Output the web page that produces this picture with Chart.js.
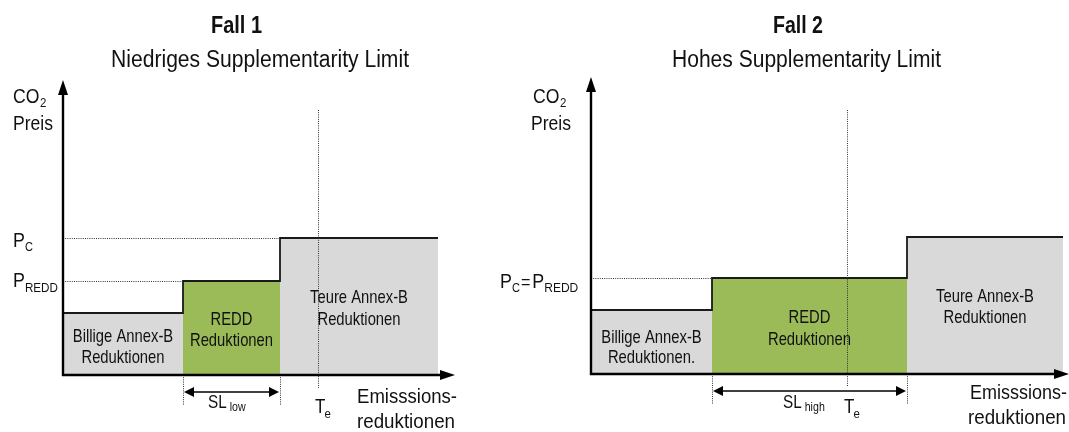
<!DOCTYPE html>
<html><head><meta charset="utf-8">
<script src="https://cdn.jsdelivr.net/npm/chart.js@4/dist/chart.umd.min.js"></script>
<style>
html,body{margin:0;padding:0;background:#fff;}
#wrap{position:relative;width:1069px;height:432px;overflow:hidden;}
canvas{position:absolute;top:0;}
</style></head><body>
<div id="wrap">
<canvas id="c1" width="480" height="432" style="left:0px"></canvas>
<canvas id="c2" width="589" height="432" style="left:480px"></canvas>
</div>
<script>
// ---- Fall 1: Niedriges Supplementarity Limit ----
const bounds1 = [0, 120, 217, 375];   // block boundaries (emission reductions)
const prices1 = [62, 94, 137];        // price levels: Billige, REDD, Teure
const te1 = 255;                      // target T_e
const xMax1 = 392, yMax1 = 295;
// ---- Fall 2: Hohes Supplementarity Limit ----
const bounds2 = [0, 121, 316, 472];
const prices2 = [64, 96, 137];
const te2 = 256;
const xMax2 = 478, yMax2 = 297;

const blockLabels1 = [["Billige Annex-B","Reduktionen"],["REDD","Reduktionen"],["Teure Annex-B","Reduktionen"]];
const blockLabels2 = [["Billige Annex-B","Reduktionen."],["REDD","Reduktionen"],["Teure Annex-B","Reduktionen"]];
const blockColors = ['#d9d9d9', '#9bbb59', '#d9d9d9'];

const FONT = '"Liberation Sans", Arial, sans-serif';
function txt(ctx, s, x, y, size, o) {
  o = o || {};
  ctx.save();
  ctx.font = (o.bold ? 'bold ' : '') + size + 'px ' + FONT;
  ctx.fillStyle = '#111';
  ctx.textBaseline = 'alphabetic';
  ctx.textAlign = 'left';
  const w = ctx.measureText(s).width;
  const sx = o.width ? o.width / w : (o.sx || 1);
  let left = x;
  if (o.align === 'center') left = x - w * sx / 2;
  ctx.translate(left, y);
  ctx.scale(sx, 1);
  ctx.fillText(s, 0, 0);
  ctx.restore();
  return w * sx;
}

function makePanel(id, off, bounds, prices, te, xMax, yMax, labels, pad, extra) {
  const datasets = [];
  for (let i = 0; i < prices.length; i++) {
    datasets.push({
      data: [{x: bounds[i], y: prices[i]}, {x: bounds[i + 1], y: prices[i]}],
      fill: 'origin', backgroundColor: blockColors[i], borderWidth: 0, pointRadius: 0, order: 2
    });
  }
  datasets.push({
    data: [{x: bounds[0], y: prices[0]}, {x: bounds[1], y: prices[1]}, {x: bounds[2], y: prices[2]}, {x: bounds[3], y: prices[2]}],
    stepped: 'before', fill: false, borderColor: '#1a1a1a', borderWidth: 1.8, pointRadius: 0, order: 1
  });

  const deco = {
    id: 'deco' + id,
    afterDatasetsDraw(chart) {
      const ctx = chart.ctx, a = chart.chartArea;
      const X = v => chart.scales.x.getPixelForValue(v);
      const Y = v => chart.scales.y.getPixelForValue(v);
      const P = v => v - off; // page x -> canvas x
      ctx.save();
      // dotted guides
      ctx.setLineDash([1, 1.2]);
      ctx.lineWidth = 1;
      ctx.strokeStyle = '#333';
      extra.pLines.forEach(([lvl, bi]) => {
        ctx.beginPath();
        ctx.moveTo(X(0), Y(prices[lvl]) + 0.5);
        ctx.lineTo(X(bounds[bi]), Y(prices[lvl]) + 0.5);
        ctx.stroke();
      });
      // T_e line
      ctx.beginPath();
      ctx.moveTo(Math.round(X(te)) + 0.5, 110);
      ctx.lineTo(Math.round(X(te)) + 0.5, Y(0) + 13);
      ctx.stroke();
      // SL ticks
      [bounds[1], bounds[2]].forEach(b => {
        ctx.beginPath();
        ctx.moveTo(Math.round(X(b)) + 0.5, Y(0));
        ctx.lineTo(Math.round(X(b)) + 0.5, Y(0) + 30);
        ctx.stroke();
      });
      ctx.setLineDash([]);
      // axes
      ctx.strokeStyle = '#000';
      ctx.fillStyle = '#000';
      ctx.lineWidth = 2.4;
      ctx.beginPath();
      ctx.moveTo(X(0), Y(0) + 1.2);
      ctx.lineTo(X(0), a.top + 10);
      ctx.moveTo(X(0) - 1.2, Y(0));
      ctx.lineTo(a.right - 10, Y(0));
      ctx.stroke();
      ctx.beginPath();
      ctx.moveTo(X(0), a.top); ctx.lineTo(X(0) - 5, a.top + 15); ctx.lineTo(X(0) + 5, a.top + 15); ctx.closePath(); ctx.fill();
      ctx.beginPath();
      ctx.moveTo(a.right, Y(0)); ctx.lineTo(a.right - 15, Y(0) - 5); ctx.lineTo(a.right - 15, Y(0) + 5); ctx.closePath(); ctx.fill();
      // SL double arrow
      const ay = Y(0) + 17, x1 = X(bounds[1]) + 1, x2 = X(bounds[2]) - 1;
      ctx.lineWidth = 1.6;
      ctx.beginPath(); ctx.moveTo(x1 + 8, ay); ctx.lineTo(x2 - 8, ay); ctx.stroke();
      ctx.beginPath(); ctx.moveTo(x1, ay); ctx.lineTo(x1 + 10, ay - 5); ctx.lineTo(x1 + 10, ay + 5); ctx.closePath(); ctx.fill();
      ctx.beginPath(); ctx.moveTo(x2, ay); ctx.lineTo(x2 - 10, ay - 5); ctx.lineTo(x2 - 10, ay + 5); ctx.closePath(); ctx.fill();
      ctx.restore();

      // titles
      txt(ctx, extra.title, P(extra.titleX), 33, 23, {bold: true, align: 'center', width: extra.titleW});
      txt(ctx, extra.sub, P(extra.subX), 67, 23, {width: extra.subW});
      // y axis label
      const cw = txt(ctx, 'CO', P(extra.coX), 103, 20, {sx: 0.88});
      txt(ctx, '2', P(extra.coX) + cw + 0.5, 107, 13, {sx: 0.88});
      txt(ctx, 'Preis', P(extra.preisX), 130, 20, {width: 40});
      // price labels
      extra.priceText(ctx, P);
      // block labels
      labels.forEach((ls, i) => {
        const cx = X((bounds[i] + bounds[i + 1]) / 2);
        ls.forEach((l, k) => txt(ctx, l, cx, extra.labelY[i][k], 18.5, {align: 'center', sx: 0.8}));
      });
      // SL label
      const sw = txt(ctx, 'SL', P(extra.slX), 408, 18, {sx: 0.85});
      txt(ctx, extra.slSub, P(extra.slX) + sw + 3, 411, 12.5, {sx: 0.85});
      // T_e label
      const tx = Math.round(X(te)) - 3;
      const tw = txt(ctx, 'T', tx, 413, 20, {sx: 0.85});
      txt(ctx, 'e', tx + tw - 1, 418, 13, {sx: 0.88});
      // x axis label
      txt(ctx, 'Emisssions-', P(extra.emX), extra.emY, 20, {width: extra.emW});
      txt(ctx, 'reduktionen', P(extra.redX), extra.emY + 25, 20, {width: 98});
    }
  };

  return new Chart(document.getElementById(id), {
    type: 'line',
    data: {datasets},
    options: {
      responsive: false, animation: false, devicePixelRatio: 1,
      layout: {padding: pad},
      scales: {
        x: {type: 'linear', min: 0, max: xMax, display: false},
        y: {type: 'linear', min: 0, max: yMax, display: false}
      },
      plugins: {legend: {display: false}, tooltip: {enabled: false}, title: {display: false}}
    },
    plugins: [deco]
  });
}

makePanel('c1', 0, bounds1, prices1, te1, xMax1, yMax1, blockLabels1,
  {left: 63, top: 80, right: 25, bottom: 57},
  {
    title: 'Fall 1', titleX: 236.5, titleW: 51,
    sub: 'Niedriges Supplementarity Limit', subX: 111, subW: 298,
    coX: 13, preisX: 13,
    pLines: [[2, 2], [1, 1]],
    priceText(ctx, P) {
      const a = txt(ctx, 'P', P(13), 247, 21, {sx: 0.85});
      txt(ctx, 'C', P(13) + a, 251, 13, {sx: 0.85});
      const b = txt(ctx, 'P', P(13), 287, 21, {sx: 0.85});
      txt(ctx, 'REDD', P(13) + b, 292, 13.5, {width: 33});
    },
    labelY: [[342, 363], [325, 346], [303, 325]],
    slX: 208, slSub: 'low',
    emX: 357, emY: 403, emW: 100, redX: 357
  });

makePanel('c2', 480, bounds2, prices2, te2, xMax2, yMax2, blockLabels2,
  {left: 111, top: 77, right: 0, bottom: 58},
  {
    title: 'Fall 2', titleX: 798, titleW: 50,
    sub: 'Hohes Supplementarity Limit', subX: 672, subW: 269,
    coX: 533, preisX: 531,
    pLines: [[1, 1]],
    priceText(ctx, P) {
      let x = P(500);
      x += txt(ctx, 'P', x, 288, 21, {sx: 0.85});
      x += txt(ctx, 'C', x, 292, 13, {sx: 0.85}) + 1;
      x += txt(ctx, '=', x, 288, 19, {sx: 0.85}) + 2;
      x += txt(ctx, 'P', x, 288, 21, {sx: 0.85});
      txt(ctx, 'REDD', x, 292, 13.5, {width: 34});
    },
    labelY: [[343, 363], [323, 345], [302, 323]],
    slX: 783, slSub: 'high',
    emX: 970, emY: 399, emW: 97, redX: 968
  });
</script>
</body></html>
